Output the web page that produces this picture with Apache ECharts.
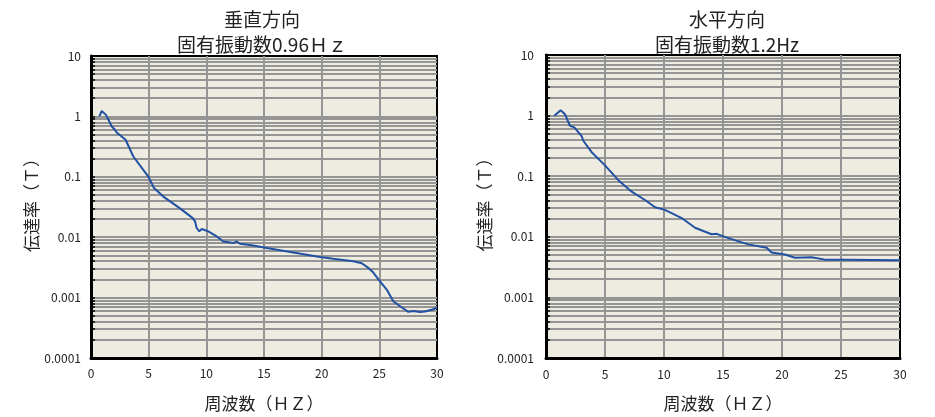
<!DOCTYPE html>
<html><head><meta charset="utf-8">
<script src="https://cdn.jsdelivr.net/npm/echarts@6/dist/echarts.min.js"></script>
<style>html,body{margin:0;padding:0;background:#fff}#c{width:935px;height:417px}</style>
</head><body><div id="c"></div>
<script>
// ---- data ----
var vTitle = '垂直方向\n固有振動数0.96Ｈｚ';
var hTitle = '水平方向\n固有振動数1.2Hz';
var xName = '周波数（ＨＺ）';
var yName = '伝達率（Ｔ）';
var yLabelValues = [0.0001, 0.001, 0.01, 0.1, 1, 10];
var yLabelTexts = ['0.0001', '0.001', '0.01', '0.1', '1', '10'];
var yMinorValues = [
  0.0001,0.0002,0.0003,0.0004,0.0005,0.0006,0.0007,0.0008,0.0009,
  0.001,0.002,0.003,0.004,0.005,0.006,0.007,0.008,0.009,
  0.01,0.02,0.03,0.04,0.05,0.06,0.07,0.08,0.09,
  0.1,0.2,0.3,0.4,0.5,0.6,0.7,0.8,0.9,
  1,2,3,4,5,6,7,8,9,10];
var vFreq = [0.72,0.93,1.3,1.8,2.08,2.23,3.0,3.67,4.97,5.46,6.27,7.72,8.82,9.02,9.16,9.39,9.6,10.17,10.9,11.47,12.34,12.63,12.92,14.07,15.23,17.54,19.86,21.0,22.75,23.47,24.05,24.48,24.92,25.64,26.21,26.8,27.51,27.95,28.53,28.96,29.54,30];
var vVal  = [1.0,1.23,1.06,0.68,0.60,0.54,0.41,0.217,0.101,0.065,0.047,0.030,0.0207,0.0183,0.0142,0.0125,0.0137,0.0125,0.0103,0.0085,0.0080,0.0085,0.0078,0.0073,0.0066,0.0056,0.0047,0.0044,0.0040,0.0037,0.0031,0.0026,0.0020,0.00136,0.00087,0.00072,0.00058,0.00060,0.00058,0.00059,0.00063,0.00068];
var hFreq = [0.71,1.24,1.61,2.03,2.4,3.02,3.16,3.87,5.0,6.13,7.26,8.39,9.24,10.08,11.5,12.63,14.04,14.46,15.45,17.14,18.7,19.12,20.25,21.1,22.5,23.64,25.6,29.85,30];
var hVal  = [0.99,1.22,1.05,0.68,0.64,0.46,0.385,0.249,0.151,0.086,0.0555,0.0405,0.0308,0.0278,0.0204,0.0141,0.0110,0.0112,0.0095,0.0075,0.0066,0.0055,0.0051,0.0045,0.0046,0.0042,0.0042,0.0041,0.0041];

function pairs(xs, ys){ return xs.map(function(x,i){ return [x, ys[i]]; }); }

var FONT = '"Noto Sans CJK JP", "Noto Sans", sans-serif';
var GRID_COLOR = '#959595';

function xAxisCfg(gi, margin){
  return {
    type:'value', gridIndex:gi, min:0, max:30, interval:5,
    name: xName, nameLocation:'middle', nameGap:37,
    nameTextStyle:{fontFamily:FONT, fontSize:17, color:'#222'},
    axisLine:{show:true, onZero:false, lineStyle:{color:'#000', width:3}},
    axisTick:{show:false},
    axisLabel:{fontFamily:FONT, fontSize:12, color:'#222', margin:margin},
    splitLine:{show:true, showMinLine:false, showMaxLine:false, lineStyle:{color:GRID_COLOR, width:2}}
  };
}
function yAxisCfg(gi, margin, gap){
  return {
    type:'log', logBase:10, gridIndex:gi, min:0.0001, max:10,
    name: yName, nameLocation:'middle', nameGap:gap,
    nameTextStyle:{fontFamily:FONT, fontSize:17, color:'#222', padding:[0,0,0,12]},
    axisLine:{show:true, lineStyle:{color:'#000', width:3}},
    axisTick:{show:true, inside:true, length:4, customValues:yMinorValues, lineStyle:{color:'#000', width:1.5}},
    axisLabel:{fontFamily:FONT, fontSize:12, color:'#222', margin:margin, customValues:yLabelValues,
      formatter:function(v){ var i = yLabelValues.findIndex(function(t){return Math.abs(Math.log10(t)-Math.log10(v))<1e-6;}); return i>=0?yLabelTexts[i]:''; }},
    splitLine:{show:true, showMinLine:false, showMaxLine:false, lineStyle:{color:GRID_COLOR, width:2}}
  };
}

var chart = echarts.init(document.getElementById('c'), null, {renderer:'canvas'});
chart.setOption({
  backgroundColor:'#fff',
  animation:false,
  title:[
    {text:vTitle, left:257, top:2, textAlign:'center', textStyle:{fontFamily:FONT, fontSize:19, fontWeight:'normal', color:'#222', lineHeight:25}},
    {text:hTitle, left:722, top:2, textAlign:'center', textStyle:{fontFamily:FONT, fontSize:19, fontWeight:'normal', color:'#222', lineHeight:25}}
  ],
  grid:[
    {left:91, top:56, width:346, height:303, show:true, backgroundColor:'#EEEBE0', borderColor:'#000', borderWidth:2},
    {left:546, top:55, width:354, height:306, show:true, backgroundColor:'#EEEBE0', borderColor:'#000', borderWidth:2}
  ],
  xAxis:[xAxisCfg(0, 9), xAxisCfg(1, 10)],
  yAxis:[yAxisCfg(0, 10, 46), yAxisCfg(1, 12, 45)],
  series:[
    {type:'line', xAxisIndex:0, yAxisIndex:0, data:pairs(vFreq, vVal), showSymbol:false, symbol:'none',
     lineStyle:{color:'#2151A3', width:2}, z:5},
    {type:'line', xAxisIndex:1, yAxisIndex:1, data:pairs(hFreq, hVal), showSymbol:false, symbol:'none',
     lineStyle:{color:'#2151A3', width:2}, z:5}
  ]
});
</script>
</body></html>
